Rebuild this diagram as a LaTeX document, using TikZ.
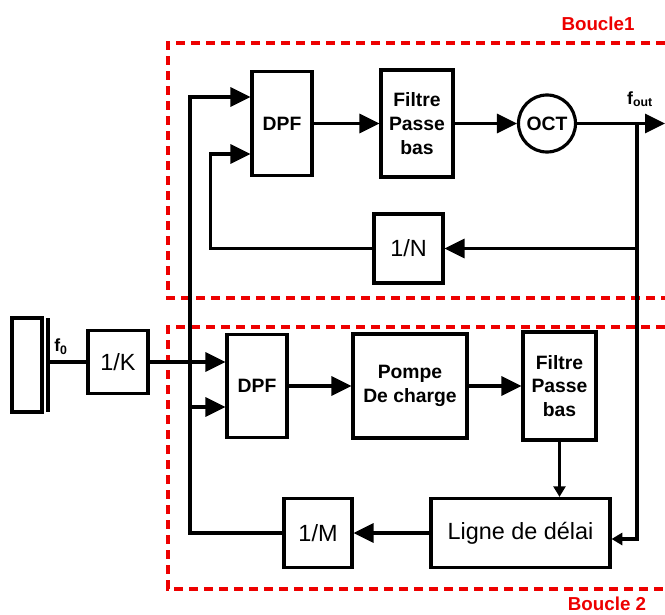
\documentclass[tikz,border=0pt]{standalone}
\usepackage{fontspec}
\setmainfont{Liberation Sans}
\usetikzlibrary{arrows.meta, positioning, calc}
\definecolor{loopred}{rgb}{0.93, 0.0, 0.0}

\begin{document}
\begin{tikzpicture}[x=0.03cm, y=-0.03cm,
		blk/.style={draw, line width=2.7pt, inner sep=0pt, align=center, font=\bfseries\fontsize{16.5}{20.4}\selectfont},
		div/.style={blk, font=\fontsize{20}{24}\selectfont},
		wire/.style={line width=2.7pt},
		arr/.style={wire, -{Triangle[length=0.6cm, width=0.57cm]}},
		arrs/.style={wire, -{Triangle[length=0.32cm, width=0.36cm]}},
		loopbox/.style={draw=loopred, line width=2.7pt, dash pattern=on 0.27cm off 0.18cm},
		looplbl/.style={text=loopred, font=\bfseries\fontsize{16}{19}\selectfont}
	]
	\useasboundingbox (0,0) rectangle (665,615);
	% loops
	\draw[loopbox] (665,43) -- (168,43) -- (168,298) -- (665,298);
	\draw[loopbox] (665,327) -- (168,327) -- (168,589) -- (665,589);
	\node[looplbl] (lblA) at (598,24) {Boucle1};
	\node[looplbl] (lblB) at (607,604) {Boucle 2};
	% quartz and input divider
	\node[draw, line width=2.7pt, minimum width=0.9cm, minimum height=2.82cm] (xtal) at (27,365) {};
	\coordinate (platA) at (48,318);
	\coordinate (platB) at (48,412);
	\draw[wire] (platA) -- (platB);
	\node[font=\bfseries\fontsize{15}{18}\selectfont] (fzero) at (61,347) {f\textsubscript{0}};
	\node[div, minimum width=1.8cm, minimum height=1.89cm] (divK) at (118,362) {1/K};
	\draw[wire] (divK.west -| platA) -- (divK.west);
	% loop 1
	\node[blk, minimum width=1.8cm, minimum height=3.12cm] (dpfA) at (282,123.5) {DPF};
	\node[blk, minimum width=2.16cm, minimum height=3.21cm] (filtreA) at (417,123.5) {Filtre\\Passe\\bas};
	\node[blk, circle, minimum size=1.71cm] (oct) at (547,123.5) {OCT};
	\node[div, minimum width=2.07cm, minimum height=2.07cm] (divN) at (408.5,248.5) {1/N};
	\coordinate (tap) at (637,123.5);
	\coordinate (fout) at (665,123.5);
	\node[font=\bfseries\fontsize{15}{18}\selectfont] (foutlbl) at (640,99) {f\textsubscript{out}};
	\draw[arr] (dpfA) -- (filtreA);
	\draw[arr] (filtreA) -- (oct);
	\draw[arr] (oct) -- (fout);
	\draw[arr] (tap) |- (divN.east);
	\coordinate (inA2) at ($(dpfA.west)+(0,30.5)$);
	\draw[arr] (divN.west) -| ($(inA2)+(-40,0)$) -- (inA2);
	% loop 2
	\node[blk, minimum width=1.8cm, minimum height=3.09cm] (dpfB) at (257,386) {DPF};
	\node[blk, minimum width=3.42cm, minimum height=3.12cm] (pompe) at (410,386) {Pompe\\De charge};
	\node[blk, minimum width=2.19cm, minimum height=3.24cm] (filtreB) at (559.5,386) {Filtre\\Passe\\bas};
	\node[div, minimum width=5.37cm, minimum height=2.07cm] (ligne) at (520.5,533) {Ligne de délai};
	\node[div, minimum width=2.04cm, minimum height=2.07cm] (divM) at (318,533) {1/M};
	\draw[arr] (divK.east) -- (divK.east -| dpfB.west);
	\draw[arr] (dpfB) -- (pompe);
	\draw[arr] (pompe) -- (filtreB);
	\draw[arrs] (filtreB) -- (filtreB |- ligne.north);
	\draw[arr] (ligne.west) -- (divM.east);
	\coordinate (busT) at (190,97);
	\draw[arr] (divM.west) -| (busT) -- (busT -| dpfA.west);
	\coordinate (inB2) at ($(dpfB.west)+(0,21)$);
	\draw[arr] (inB2 -| busT) -- (inB2);
	\coordinate (tapB) at (637,539);
	\draw[arrs] (tap) -- (tapB) -- (tapB -| ligne.east);
\end{tikzpicture}
\end{document}
